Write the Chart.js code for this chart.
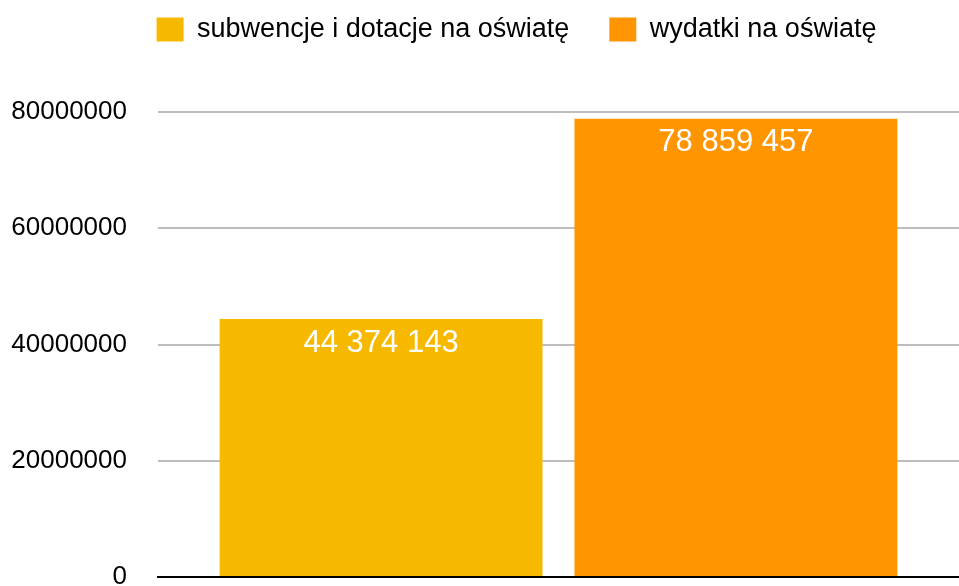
<!DOCTYPE html>
<html>
<head>
<meta charset="utf-8">
<script src="https://cdn.jsdelivr.net/npm/chart.js@4"></script>
<style>
  html, body { margin: 0; padding: 0; background: #fff; }
  #wrap { width: 959px; height: 586px; }
</style>
</head>
<body>
<div id="wrap"><canvas id="eduChart"></canvas></div>
<script>
// dane
const categories = [''];
const seriesNames = ['subwencje i dotacje na oświatę', 'wydatki na oświatę'];
const subwencje = [44374143];
const wydatki = [78859457];
const seriesColors = ['#f6b900', '#ff9500'];
const yTicks = [0, 20000000, 40000000, 60000000, 80000000];

// format 44 374 143
function formatPl(v) {
    return String(Math.round(v)).replace(/\B(?=(\d{3})+(?!\d))/g, ' ');
}

// etykiety wartości na słupkach + przesunięcie legendy
const valueLabels = {
    id: 'valueLabels',
    afterLayout(chart) {
        // legenda w oryginale jest trochę w prawo
        chart.legend.left += 32;
        chart.legend.right += 32;
    },
    afterDatasetsDraw(chart) {
        const ctx = chart.ctx;
        ctx.save();
        ctx.fillStyle = '#fff';
        ctx.font = '31px "Liberation Sans", Arial, sans-serif';
        ctx.textAlign = 'center';
        ctx.textBaseline = 'middle';
        chart.data.datasets.forEach((ds, i) => {
            chart.getDatasetMeta(i).data.forEach((bar, j) => {
                ctx.fillText(formatPl(ds.data[j]), bar.x, bar.y + 24);
            });
        });
        ctx.restore();
    }
};

const ctx = document.getElementById('eduChart').getContext('2d');
const chart = new Chart(ctx, {
    type: 'bar',
    data: {
        labels: categories,
        datasets: [{
            label: seriesNames[0],
            data: subwencje,
            backgroundColor: seriesColors[0],
            barPercentage: 0.91,
            categoryPercentage: 0.886
        }, {
            label: seriesNames[1],
            data: wydatki,
            backgroundColor: seriesColors[1],
            barPercentage: 0.91,
            categoryPercentage: 0.886
        }]
    },
    options: {
        responsive: true,
        maintainAspectRatio: false,
        animation: false,
        layout: {
            autoPadding: false,
            padding: { left: 10, right: 0, top: -24, bottom: 9 }
        },
        plugins: {
            legend: {
                weight: 3000,
                labels: {
                    color: '#000',
                    font: { size: 27, family: '"Liberation Sans", Arial, sans-serif' },
                    boxWidth: 27,
                    boxHeight: 24,
                    padding: 40
                }
            },
            // pusty odstęp między legendą a wykresem
            title: {
                display: true,
                text: '',
                weight: 2000,
                font: { size: 1, lineHeight: 1 },
                padding: { top: 0, bottom: 58 }
            },
            tooltip: { enabled: false }
        },
        scales: {
            x: {
                afterFit: (axis) => { axis.height = 0; },
                ticks: { display: false },
                grid: { display: false, drawTicks: false },
                border: { color: '#000', width: 2 }
            },
            y: {
                min: 0,
                max: 80000000,
                afterFit: (axis) => {
                    axis.width = 148;
                    axis.paddingTop = 0;
                    axis.paddingBottom = 0;
                },
                afterBuildTicks: (axis) => { axis.ticks = yTicks.map(v => ({ value: v })); },
                ticks: {
                    color: '#000',
                    padding: 31,
                    font: { size: 26, family: '"Liberation Sans", Arial, sans-serif' },
                    callback: (v) => String(v)
                },
                grid: { color: '#bdbdbd', lineWidth: 2, drawTicks: false },
                border: { display: false }
            }
        }
    },
    plugins: [valueLabels]
});
</script>
</body>
</html>
